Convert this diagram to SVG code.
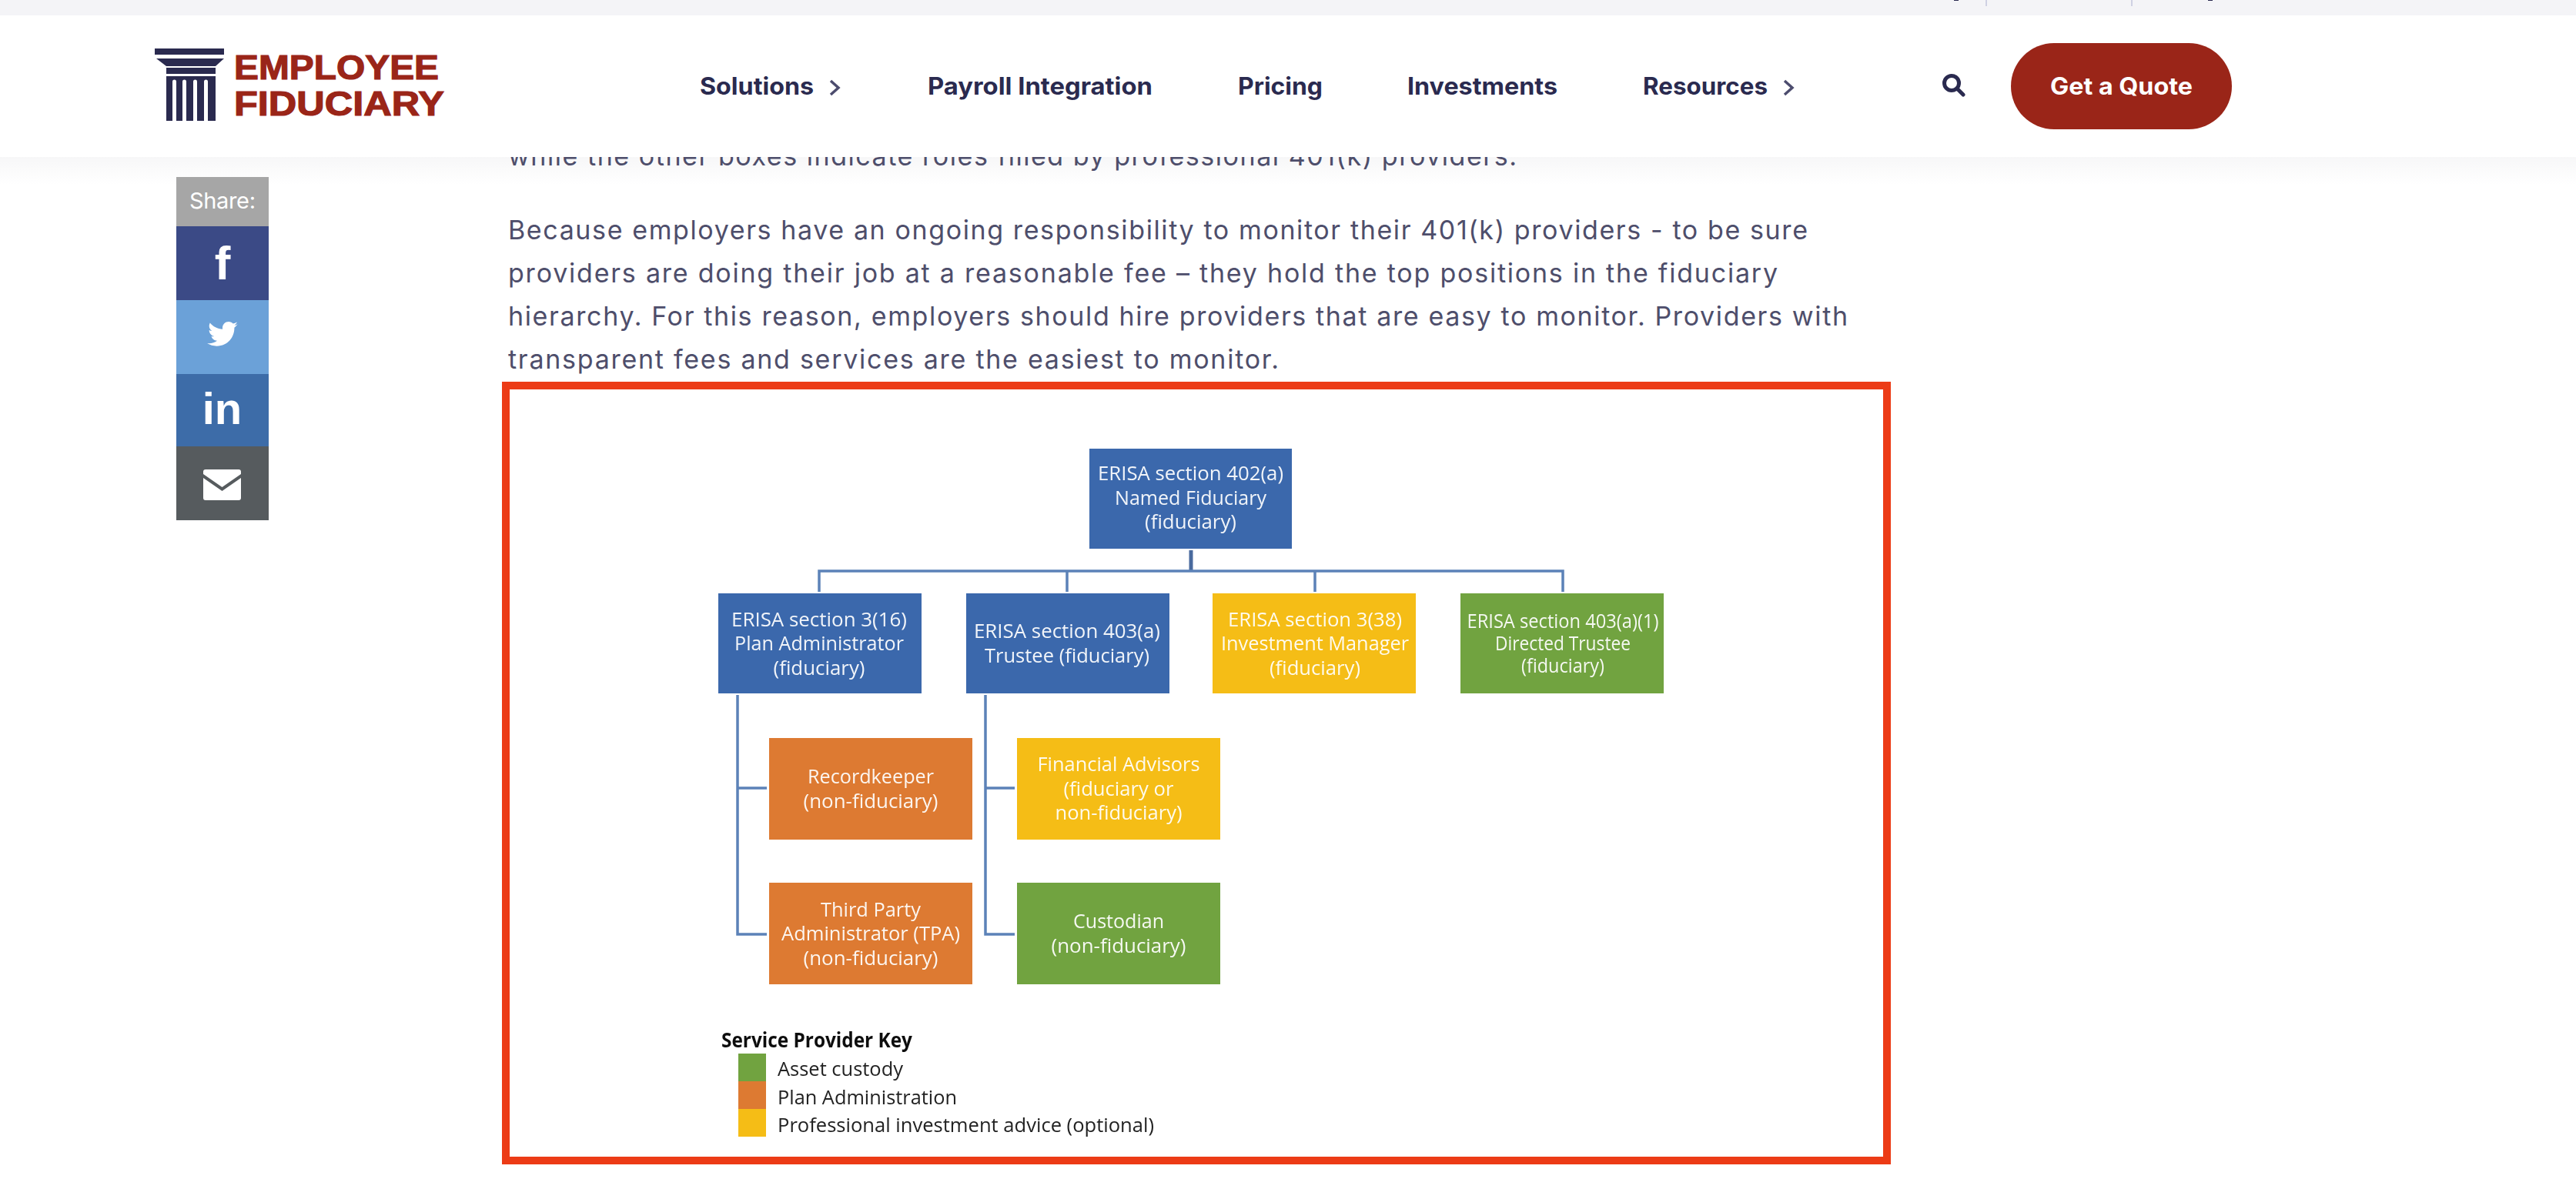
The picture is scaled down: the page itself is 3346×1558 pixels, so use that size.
<svg xmlns="http://www.w3.org/2000/svg" width="3346" height="1558" viewBox="0 0 3346 1558">
<style>
.nav{font-family:"Inter","Liberation Sans",sans-serif;font-weight:700;font-size:31px;fill:#2a2a4f}
.body{font-family:"Inter","Liberation Sans",sans-serif;font-size:34px;fill:#4e4e6b}
.logo{font-family:"Liberation Sans",sans-serif;font-weight:700;font-size:44px;fill:#9a2518;stroke:#9a2518;stroke-width:1.2px}
.lbl{font-family:"Open Sans","Liberation Sans",sans-serif;font-size:26px;fill:#fff;text-anchor:middle;opacity:.93}
.key{font-family:"Open Sans","Liberation Sans",sans-serif;font-size:26px;fill:#222}
.blue{fill:#3a68ac}.orange{fill:#dd7a30}.yellow{fill:#f5bd12}.green{fill:#71a340}
.conn{fill:none;stroke:#5b82b8;stroke-width:3.5}
.soft{filter:url(#soft)}
.ic{fill:#fff}
.icon-t{font-family:"Liberation Sans",sans-serif;font-weight:700;fill:#fff;text-anchor:middle}
</style>
<defs>
<filter id="soft" x="-5%" y="-5%" width="110%" height="110%"><feGaussianBlur stdDeviation="0.7"/></filter>
<linearGradient id="shade" x1="0" y1="0" x2="0" y2="1"><stop offset="0" stop-color="#f7f7f8"/><stop offset="1" stop-color="#fff"/></linearGradient>
</defs>
<rect width="3346" height="1558" fill="#fff"/>
<g id="page-shadow"><rect x="0" y="204" width="3346" height="36" fill="url(#shade)"/></g>
<g id="clipped-text"><text class="body" x="660" y="215" textLength="1310" lengthAdjust="spacing">while the other boxes indicate roles filled by professional 401(k) providers.</text></g>
<g id="topbar">
<rect width="3346" height="20" fill="#f4f4f7"/>
<rect x="2579" y="0" width="2" height="8" fill="#cfd1e3"/>
<rect x="2768" y="0" width="2" height="8" fill="#cfd1e3"/>
<rect x="2538" y="0" width="6" height="1" fill="#2a2a4f"/>
<rect x="2868" y="0" width="6" height="1" fill="#2a2a4f"/>
</g>
<g id="header">
<rect x="0" y="20" width="3346" height="184" fill="#fff"/>
<g id="logo">
<rect x="201" y="63" width="90" height="8" fill="#2a2a4f"/>
<path d="M203 76H291L280 86H216Z" fill="#2a2a4f"/>
<rect x="216" y="88" width="64" height="8" fill="#2a2a4f"/>
<rect x="216" y="99" width="64" height="58" fill="#2a2a4f"/>
<path d="M224 157V106a2.500 2.500 0 0 1 5 0V157ZM237 157V106a2.500 2.500 0 0 1 5 0V157ZM251 157V106a2.500 2.500 0 0 1 5 0V157ZM265 157V106a2.500 2.500 0 0 1 5 0V157Z" fill="#fff"/>
<text class="logo" x="304" y="103" textLength="266" lengthAdjust="spacingAndGlyphs">EMPLOYEE</text>
<text class="logo" x="304" y="150" textLength="273" lengthAdjust="spacingAndGlyphs">FIDUCIARY</text>
</g>
<g id="nav">
<text class="nav" x="909" y="123" textLength="148" lengthAdjust="spacingAndGlyphs">Solutions</text>
<path d="M1079 105L1089 114L1079 123" fill="none" stroke="#4c4c6e" stroke-width="3.500"/>
<text class="nav" x="1205" y="123" textLength="292" lengthAdjust="spacingAndGlyphs">Payroll Integration</text>
<text class="nav" x="1608" y="123" textLength="110" lengthAdjust="spacingAndGlyphs">Pricing</text>
<text class="nav" x="1828" y="123" textLength="195" lengthAdjust="spacingAndGlyphs">Investments</text>
<text class="nav" x="2134" y="123" textLength="162" lengthAdjust="spacingAndGlyphs">Resources</text>
<path d="M2318 105L2328 114L2318 123" fill="none" stroke="#4c4c6e" stroke-width="3.500"/>
<g id="search" fill="none" stroke="#2a2a4f"><circle cx="2535" cy="108" r="9.500" stroke-width="5"/><path d="M2542 115L2550 123" stroke-width="5" stroke-linecap="round"/></g>
<g id="quote"><rect x="2612" y="56" width="287" height="112" rx="56" fill="#9a2518"/>
<text class="nav" x="2663" y="123" textLength="185" lengthAdjust="spacingAndGlyphs" style="fill:#fff">Get a Quote</text></g>
</g>
</g>
<g id="share">
<rect x="229" y="230" width="120" height="64" fill="#a6a6a6"/>
<text x="246" y="271" font-family="Inter,'Liberation Sans',sans-serif" font-size="29" fill="#fff" textLength="86" lengthAdjust="spacing">Share:</text>
<rect x="229" y="294" width="120" height="96" fill="#3b4a86"/>
<text class="icon-t" x="289" y="363" font-size="62">f</text>
<rect x="229" y="390" width="120" height="96" fill="#6ba1d8"/>
<path class="ic" d="M309 421c-1.500 1-3 1.500-4.500 1.700 1.500-1 2.800-2.500 3.300-4.200-1.500 1-3.200 1.600-5 2-1.500-1.600-3.500-2.500-5.800-2.500-4.400 0-8 3.500-8 8 0 .6.100 1.200.2 1.800-6.600-.3-12.500-3.500-16.400-8.300-.7 1.200-1.100 2.600-1.100 4 0 2.800 1.400 5.200 3.600 6.600-1.300 0-2.600-.4-3.600-1 0 3.900 2.700 7.100 6.400 7.900-1.100.3-2.400.4-3.600.1 1 3.200 4 5.500 7.500 5.600-3.500 2.700-8 4-12.800 3.400 3.600 2.300 7.800 3.600 12.300 3.600 14.800 0 22.900-12.300 22.900-22.900v-1c1.600-1.200 2.900-2.600 4-4.200Z"/>
<rect x="229" y="486" width="120" height="94" fill="#3d6ca8"/>
<text class="icon-t" x="288.500" y="551" font-size="58">in</text>
<rect x="229" y="580" width="120" height="96" fill="#565b5e"/>
<path class="ic" d="M267 610H310a3 3 0 0 1 3 3V616L288.500 633L264 616V613a3 3 0 0 1 3-3Z M264 621L288.500 638L313 621V647a3 3 0 0 1-3 3H267a3 3 0 0 1-3-3Z"/>
</g>
<g id="paragraph">
<text class="body" x="660" y="311" textLength="1688" lengthAdjust="spacing">Because employers have an ongoing responsibility to monitor their 401(k) providers - to be sure</text>
<text class="body" x="660" y="367" textLength="1649" lengthAdjust="spacing">providers are doing their job at a reasonable fee – they hold the top positions in the fiduciary</text>
<text class="body" x="660" y="423" textLength="1740" lengthAdjust="spacing">hierarchy. For this reason, employers should hire providers that are easy to monitor. Providers with</text>
<text class="body" x="660" y="479" textLength="1001" lengthAdjust="spacing">transparent fees and services are the easiest to monitor.</text>
</g>
<g id="connectors" class="soft">
<path class="conn" d="M1547 715V742" style="stroke:#4a6a9e;stroke-width:5"/>
<path class="conn" d="M1064 769V742H2030V769"/>
<path class="conn" d="M1386 742V769M1708 742V769"/>
<path class="conn" d="M958 903V1214H996M958 1024H996"/>
<path class="conn" d="M1280 903V1214H1318M1280 1024H1318"/>
</g>
<g id="named-fiduciary" class="soft"><rect class="blue" x="1415" y="583" width="263" height="130"/>
<text class="lbl" x="1546.500" y="624" textLength="241" lengthAdjust="spacingAndGlyphs">ERISA section 402(a)</text>
<text class="lbl" x="1546.500" y="656" textLength="197" lengthAdjust="spacingAndGlyphs">Named Fiduciary</text>
<text class="lbl" x="1546.500" y="687" textLength="119" lengthAdjust="spacingAndGlyphs">(fiduciary)</text></g>
<g id="plan-administrator" class="soft"><rect class="blue" x="933" y="771" width="264" height="130"/>
<text class="lbl" x="1064" y="814" textLength="228" lengthAdjust="spacingAndGlyphs">ERISA section 3(16)</text>
<text class="lbl" x="1064" y="845" textLength="220" lengthAdjust="spacingAndGlyphs">Plan Administrator</text>
<text class="lbl" x="1064" y="877" textLength="119" lengthAdjust="spacingAndGlyphs">(fiduciary)</text></g>
<g id="trustee" class="soft"><rect class="blue" x="1255" y="771" width="264" height="130"/>
<text class="lbl" x="1386" y="829" textLength="242" lengthAdjust="spacingAndGlyphs">ERISA section 403(a)</text>
<text class="lbl" x="1386" y="861" textLength="214" lengthAdjust="spacingAndGlyphs">Trustee (fiduciary)</text></g>
<g id="investment-manager" class="soft"><rect class="yellow" x="1575" y="771" width="264" height="130"/>
<text class="lbl" x="1708" y="814" textLength="226" lengthAdjust="spacingAndGlyphs">ERISA section 3(38)</text>
<text class="lbl" x="1708" y="845" textLength="244" lengthAdjust="spacingAndGlyphs">Investment Manager</text>
<text class="lbl" x="1708" y="877" textLength="118" lengthAdjust="spacingAndGlyphs">(fiduciary)</text></g>
<g id="directed-trustee" class="soft"><rect class="green" x="1897" y="771" width="264" height="130"/>
<text class="lbl" x="2030" y="816" textLength="249" lengthAdjust="spacingAndGlyphs">ERISA section 403(a)(1)</text>
<text class="lbl" x="2030" y="845" textLength="176" lengthAdjust="spacingAndGlyphs">Directed Trustee</text>
<text class="lbl" x="2030" y="874" textLength="108" lengthAdjust="spacingAndGlyphs">(fiduciary)</text></g>
<g id="recordkeeper" class="soft"><rect class="orange" x="999" y="959" width="264" height="132"/>
<text class="lbl" x="1131" y="1018" textLength="164" lengthAdjust="spacingAndGlyphs">Recordkeeper</text>
<text class="lbl" x="1131" y="1050" textLength="175" lengthAdjust="spacingAndGlyphs">(non-fiduciary)</text></g>
<g id="tpa" class="soft"><rect class="orange" x="999" y="1147" width="264" height="132"/>
<text class="lbl" x="1131" y="1191" textLength="130" lengthAdjust="spacingAndGlyphs">Third Party</text>
<text class="lbl" x="1131" y="1222" textLength="232" lengthAdjust="spacingAndGlyphs">Administrator (TPA)</text>
<text class="lbl" x="1131" y="1254" textLength="175" lengthAdjust="spacingAndGlyphs">(non-fiduciary)</text></g>
<g id="financial-advisors" class="soft"><rect class="yellow" x="1321" y="959" width="264" height="132"/>
<text class="lbl" x="1453" y="1002" textLength="211" lengthAdjust="spacingAndGlyphs">Financial Advisors</text>
<text class="lbl" x="1453" y="1034" textLength="143" lengthAdjust="spacingAndGlyphs">(fiduciary or</text>
<text class="lbl" x="1453" y="1065" textLength="165" lengthAdjust="spacingAndGlyphs">non-fiduciary)</text></g>
<g id="custodian" class="soft"><rect class="green" x="1321" y="1147" width="264" height="132"/>
<text class="lbl" x="1453" y="1206" textLength="118" lengthAdjust="spacingAndGlyphs">Custodian</text>
<text class="lbl" x="1453" y="1238" textLength="175" lengthAdjust="spacingAndGlyphs">(non-fiduciary)</text></g>
<g id="key" class="soft">
<text class="key" x="937" y="1361" font-weight="700" textLength="248" lengthAdjust="spacingAndGlyphs" style="fill:#111">Service Provider Key</text>
<rect class="green" x="959" y="1369" width="36" height="36"/>
<rect class="orange" x="959" y="1405" width="36" height="36"/>
<rect class="yellow" x="959" y="1441" width="36" height="36"/>
<text class="key" x="1010" y="1398" textLength="163" lengthAdjust="spacingAndGlyphs">Asset custody</text>
<text class="key" x="1010" y="1435" textLength="233" lengthAdjust="spacingAndGlyphs">Plan Administration</text>
<text class="key" x="1010" y="1471" textLength="489" lengthAdjust="spacingAndGlyphs">Professional investment advice (optional)</text>
</g>
<g id="frame"><rect x="657" y="501" width="1794" height="1007" fill="none" stroke="#ec3b16" stroke-width="10"/></g>
</svg>
